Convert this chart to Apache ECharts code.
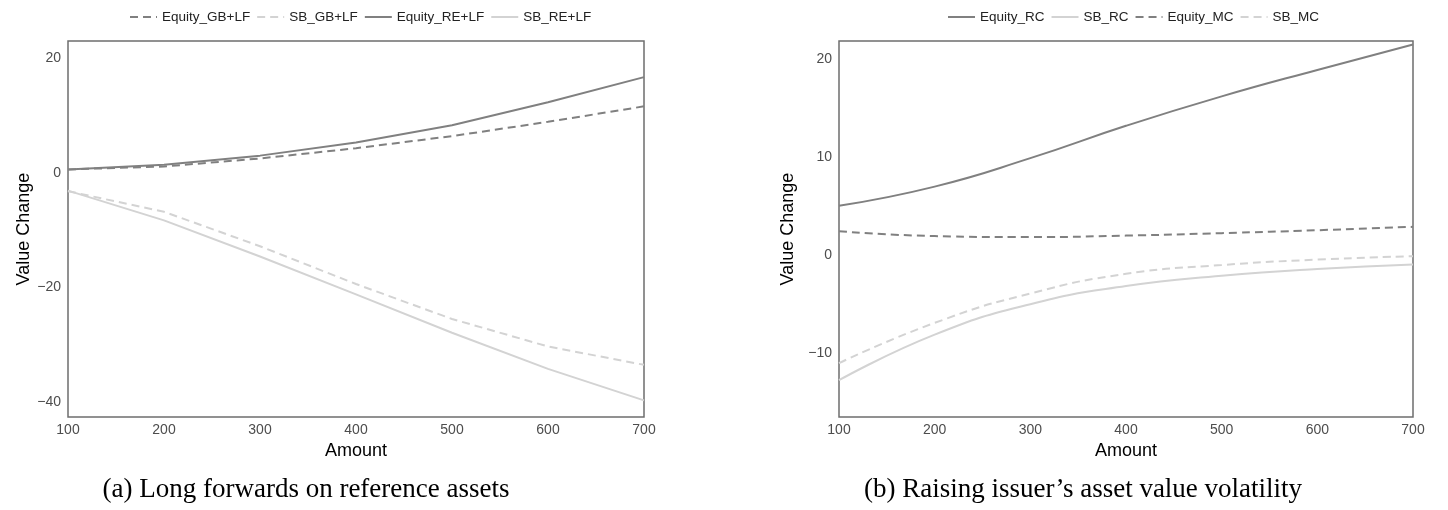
<!DOCTYPE html>
<html>
<head>
<meta charset="utf-8">
<script src="https://cdn.jsdelivr.net/npm/echarts@6/dist/echarts.min.js"></script>
<style>
html,body{margin:0;padding:0;background:#fff;}
#chart{width:1448px;height:510px;}
</style>
</head>
<body>
<div id="chart"></div>
<script>
// ---- data ----
var amounts = [100, 200, 300, 400, 500, 600, 700];

// panel (a)
var equityGB_LF = [0.6, 1.1, 2.5, 4.3, 6.4, 8.9, 11.6];
var sbGB_LF     = [-3.2, -6.8, -12.8, -19.4, -25.5, -30.3, -33.5];
var equityRE_LF = [0.6, 1.4, 3.0, 5.3, 8.3, 12.3, 16.7];
var sbRE_LF     = [-3.1, -8.3, -14.6, -21.2, -27.9, -34.2, -39.7];

// panel (b)
var equityRC = [5.05, 7.0, 9.9, 13.2, 16.2, 18.9, 21.5];
var sbRC     = [-12.75, -8.1, -5.0, -3.15, -2.1, -1.4, -0.95];
var equityMC = [2.45, 1.95, 1.85, 2.0, 2.25, 2.55, 2.9];
var sbMC     = [-11.0, -6.9, -3.9, -1.9, -1.0, -0.45, -0.1];

var ticksA = [-40, -20, 0, 20];
var ticksB = [-10, 0, 10, 20];
var legendA = ['Equity_GB+LF', 'SB_GB+LF', 'Equity_RE+LF', 'SB_RE+LF'];
var legendB = ['Equity_RC', 'SB_RC', 'Equity_MC', 'SB_MC'];
var captionA = '(a) Long forwards on reference assets';
var captionB = '(b) Raising issuer\u2019s asset value volatility';

// ---- styling ----
var DARK = '#808080', LIGHT = '#d3d3d3';
var SANS = '"Liberation Sans", Arial, sans-serif';
var SERIF = '"Liberation Serif", "Times New Roman", serif';
function pairs(ys){ return amounts.map(function(x,i){ return [x, ys[i]]; }); }
function minusFmt(v){ return String(v).replace('-', '\u2212'); }

function line(name, data, color, dashed, gi, smooth){
  return {
    name: name, type: 'line', xAxisIndex: gi, yAxisIndex: gi,
    data: pairs(data), symbol: 'none', showSymbol: false,
    smooth: smooth ? 0.5 : false,
    lineStyle: { color: color, width: 2, type: dashed ? [8, 5] : 'solid' },
    itemStyle: { color: color },
    emphasis: { disabled: true }, animation: false
  };
}

function xAx(gi){
  return {
    type: 'value', gridIndex: gi, min: 100, max: 700, interval: 100,
    name: 'Amount', nameLocation: 'middle', nameGap: 23,
    nameTextStyle: { fontFamily: SANS, fontSize: 18, color: '#000' },
    axisLine: { show: false }, axisTick: { show: false }, splitLine: { show: false },
    axisLabel: { fontFamily: SANS, fontSize: 14, color: '#4d4d4d', margin: 6 }
  };
}
function yAx(gi, min, max, ticks, gap){
  return {
    type: 'value', gridIndex: gi, min: min, max: max,
    name: 'Value Change', nameLocation: 'middle', nameGap: gap,
    nameTextStyle: { fontFamily: SANS, fontSize: 18, color: '#000' },
    axisLine: { show: false }, axisTick: { show: false }, splitLine: { show: false },
    axisLabel: { fontFamily: SANS, fontSize: 14, color: '#4d4d4d', margin: 7,
                 customValues: ticks, formatter: minusFmt }
  };
}
function legend(names, left){
  return {
    data: names, left: left, top: 5, itemWidth: 27, itemHeight: 14, itemGap: 6,
    selectedMode: false,
    itemStyle: { color: 'transparent', borderColor: 'transparent', borderWidth: 0, opacity: 0 },
    textStyle: { fontFamily: SANS, fontSize: 13.5, color: '#222' }
  };
}

var chart = echarts.init(document.getElementById('chart'), null, { renderer: 'canvas' });
chart.setOption({
  backgroundColor: '#fff',
  animation: false,
  legend: [ legend(legendA, 124), legend(legendB, 942) ],
  grid: [
    { left: 68, right: 1448 - 644, top: 41, bottom: 93, show: true,
      borderColor: '#6e6e6e', borderWidth: 1.5, backgroundColor: 'transparent' },
    { left: 839, right: 1448 - 1413, top: 41, bottom: 93, show: true,
      borderColor: '#6e6e6e', borderWidth: 1.5, backgroundColor: 'transparent' }
  ],
  xAxis: [ xAx(0), xAx(1) ],
  yAxis: [ yAx(0, -42.6, 23.0, ticksA, 33), yAx(1, -16.5, 21.85, ticksB, 42) ],
  series: [
    line(legendA[0], equityGB_LF, DARK, true, 0, false),
    line(legendA[1], sbGB_LF, LIGHT, true, 0, false),
    line(legendA[2], equityRE_LF, DARK, false, 0, false),
    line(legendA[3], sbRE_LF, LIGHT, false, 0, false),
    line(legendB[0], equityRC, DARK, false, 1, true),
    line(legendB[1], sbRC, LIGHT, false, 1, true),
    line(legendB[2], equityMC, DARK, true, 1, true),
    line(legendB[3], sbMC, LIGHT, true, 1, true)
  ],
  graphic: [
    { type: 'text', x: 306, y: 490, style: { text: captionA, fontFamily: SERIF,
      fontSize: 27, fill: '#000', textAlign: 'center', textVerticalAlign: 'middle' } },
    { type: 'text', x: 1083, y: 490, style: { text: captionB, fontFamily: SERIF,
      fontSize: 27, fill: '#000', textAlign: 'center', textVerticalAlign: 'middle' } }
  ]
});
</script>
</body>
</html>
